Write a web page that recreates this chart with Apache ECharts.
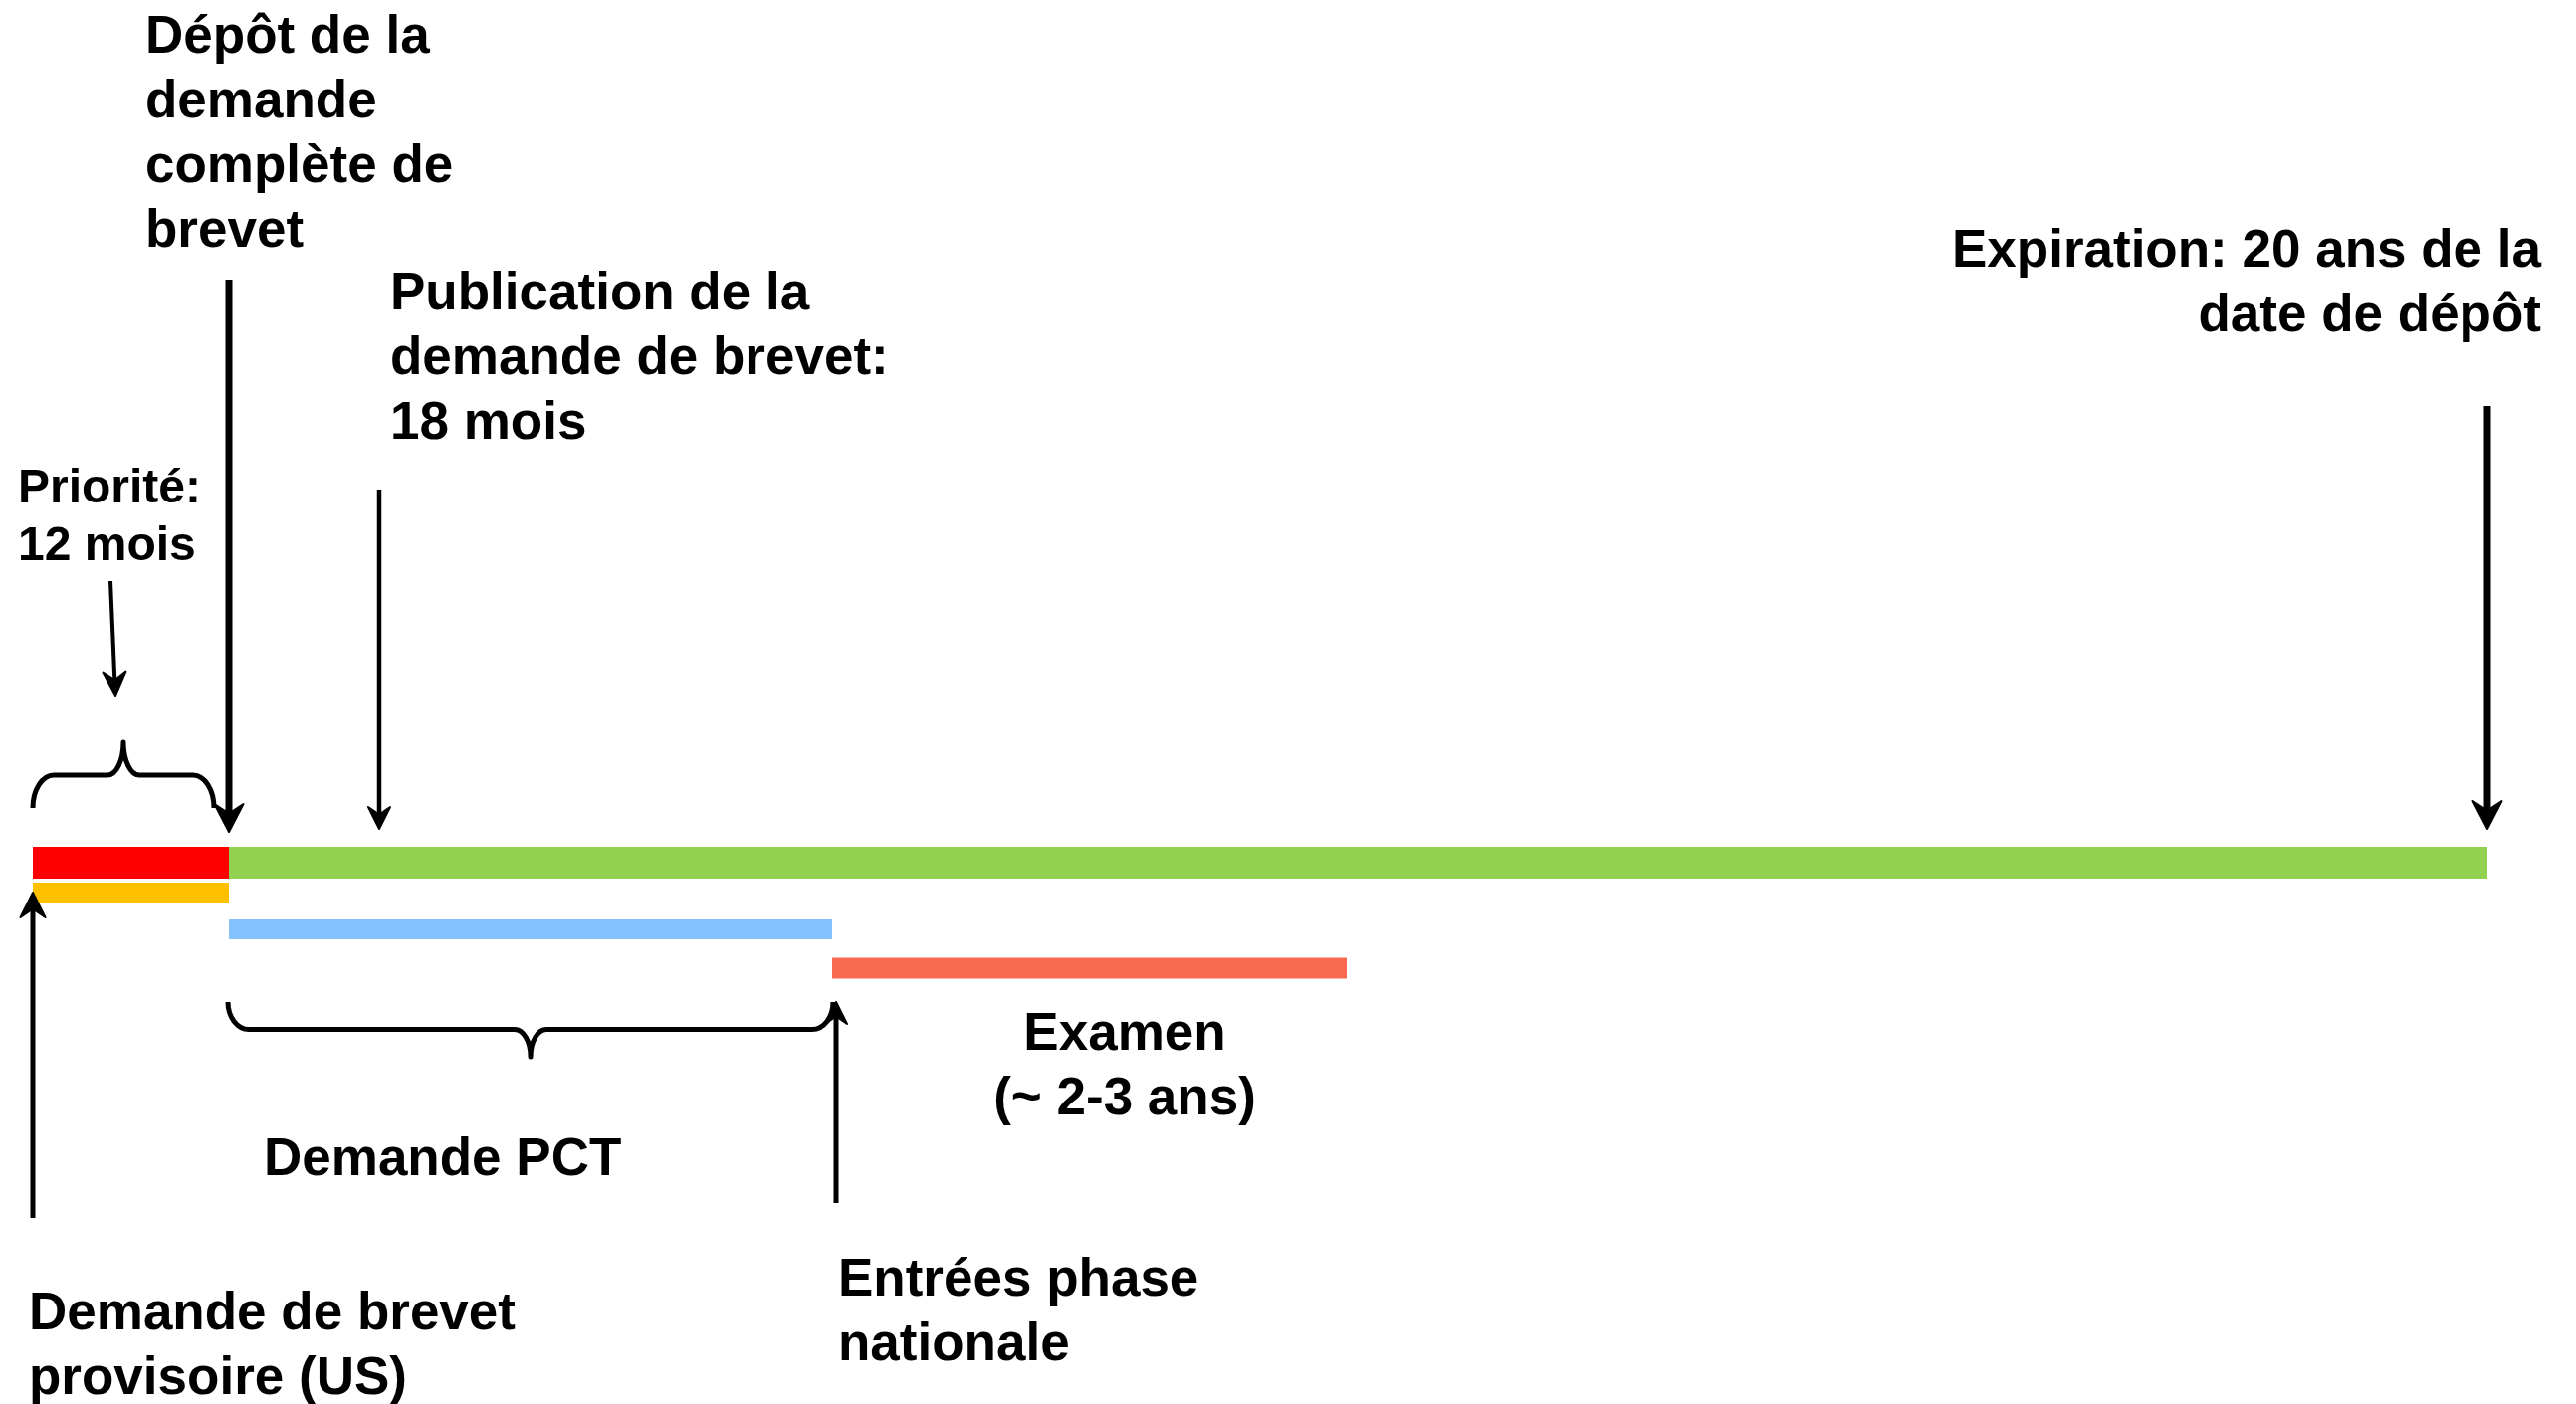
<!DOCTYPE html>
<html>
<head>
<meta charset="utf-8">
<script src="https://cdn.jsdelivr.net/npm/echarts@6/dist/echarts.min.js"></script>
<style>
html,body{margin:0;padding:0;background:#fff;}
#chart{width:2588px;height:1411px;}
</style>
</head>
<body>
<div id="chart"></div>
<script>
// ---- Data read from the schematic (layout units of the timeline) ----
const segNames  = ['Priorité', 'Protection (20 ans)', 'Provisoire (US)', 'Demande PCT', 'Examen'];
const segStart  = [33, 230, 33, 230, 836];
const segEnd    = [230, 2499, 230, 836, 1353];
const segRow    = [867, 867, 897, 934, 973];

const arrowNames = ['Dépôt', 'Publication', 'Priorité', 'Expiration', 'Provisoire', 'Entrées'];
const arrowFromX = [230, 381, 111, 2499, 33, 840];
const arrowFromY = [281, 492, 584, 408, 1224, 1209];
const arrowToX   = [230, 381, 116, 2499, 33, 840];
const arrowToY   = [836, 833, 699, 833, 897, 1007];

const braceNames = ['Priorité', 'Demande PCT'];
const braceX1    = [33, 229];
const braceX2    = [215, 837];
const braceEndY  = [812, 1007];
const braceTipY  = [746, 1062];

const labelTexts = [
  'Dépôt de la\ndemande\ncomplète de\nbrevet',
  'Publication de la\ndemande de brevet:\n18 mois',
  'Priorité:\n12 mois',
  'Expiration: 20 ans de la\ndate de dépôt',
  'Examen\n(~ 2-3 ans)',
  'Demande PCT',
  'Entrées phase\nnationale',
  'Demande de brevet\nprovisoire (US)'
];
const labelX = [146, 392, 18, 2553, 1130, 265, 842, 29];
const labelY = [38, 296, 492, 253, 1040, 1166, 1287, 1321];

// ---- Styles ----
const segColors = ['#FF0000', '#92D050', '#FFC000', '#85C1FF', '#FA6A50'];
const segThick  = [32, 32, 20, 20, 21];
const arrowWidth = [7, 4.5, 4, 7, 5, 5];
const arrowHead  = [[29, 28], [22, 22], [23, 24], [29, 28], [25, 25], [22, 22]];
const labelAlign = ['left', 'left', 'left', 'right', 'center', 'left', 'left', 'left'];
const labelSize  = [53, 53, 48, 53, 53, 53, 53, 53];
const labelLH    = [65, 65, 58, 65, 65, 65, 65, 65];
const FONT = '"Liberation Sans", Arial, Helvetica, sans-serif';

const chart = echarts.init(document.getElementById('chart'));

const segData = segNames.map((n, i) => [segStart[i], segEnd[i], segRow[i], i]);
const arrowData = arrowNames.map((n, i) => [arrowFromX[i], arrowFromY[i], arrowToX[i], arrowToY[i], i]);
const braceData = braceNames.map((n, i) => [braceX1[i], braceX2[i], braceEndY[i], braceTipY[i], i]);
const labelData = labelTexts.map((t, i) => [labelX[i], labelY[i], i]);

const K = 0.552;

const option = {
  backgroundColor: '#ffffff',
  animation: false,
  grid: {left: 0, right: 0, top: 0, bottom: 0},
  xAxis: {type: 'value', min: 0, max: 2588, show: false},
  yAxis: {type: 'value', min: 0, max: 1411, inverse: true, show: false},
  series: [
    {
      type: 'custom',
      name: 'segments',
      data: segData,
      z: 2,
      renderItem: function (params, api) {
        const i = api.value(3);
        const a = api.coord([api.value(0), api.value(2)]);
        const b = api.coord([api.value(1), api.value(2)]);
        const h = segThick[i];
        return {
          type: 'rect',
          shape: {x: a[0], y: a[1] - h / 2, width: b[0] - a[0], height: h},
          style: {fill: segColors[i]}
        };
      }
    },
    {
      type: 'custom',
      name: 'braces',
      data: braceData,
      z: 3,
      renderItem: function (params, api) {
        const l = api.coord([api.value(0), api.value(2)]);
        const r = api.coord([api.value(1), api.value(2)]);
        const t = api.coord([(api.value(0) + api.value(1)) / 2, api.value(3)]);
        const yE = l[1], yT = t[1], yM = (yE + yT) / 2;
        const x1 = l[0], x2 = r[0], xt = t[0];
        const c = 21, ct = 16;
        const P = (x, y) => x.toFixed(2) + ' ' + y.toFixed(2);
        const d =
          'M' + P(x1, yE) +
          ' C' + P(x1, yE + (yM - yE) * K) + ' ' + P(x1 + c * (1 - K), yM) + ' ' + P(x1 + c, yM) +
          ' L' + P(xt - ct, yM) +
          ' C' + P(xt - ct + ct * K, yM) + ' ' + P(xt, yT + (yM - yT) * K) + ' ' + P(xt, yT) +
          ' C' + P(xt, yT + (yM - yT) * K) + ' ' + P(xt + ct - ct * K, yM) + ' ' + P(xt + ct, yM) +
          ' L' + P(x2 - c, yM) +
          ' C' + P(x2 - c + c * K, yM) + ' ' + P(x2, yE + (yM - yE) * K) + ' ' + P(x2, yE);
        return {
          type: 'path',
          shape: {pathData: d},
          style: {stroke: '#000', lineWidth: 5, fill: null, lineJoin: 'round'}
        };
      }
    },
    {
      type: 'custom',
      name: 'arrows',
      data: arrowData,
      z: 4,
      renderItem: function (params, api) {
        const i = api.value(4);
        const p1 = api.coord([api.value(0), api.value(1)]);
        const p2 = api.coord([api.value(2), api.value(3)]);
        const dx = p2[0] - p1[0], dy = p2[1] - p1[1];
        const len = Math.sqrt(dx * dx + dy * dy);
        const ux = dx / len, uy = dy / len;
        const px = -uy, py = ux;
        const W = arrowHead[i][0], L = arrowHead[i][1];
        const bx = p2[0] - ux * L, by = p2[1] - uy * L;
        const nx = p2[0] - ux * L * 0.66, ny = p2[1] - uy * L * 0.66;
        return {
          type: 'group',
          children: [
            {
              type: 'line',
              shape: {x1: p1[0], y1: p1[1], x2: nx, y2: ny},
              style: {stroke: '#000', lineWidth: arrowWidth[i]}
            },
            {
              type: 'polygon',
              shape: {points: [[p2[0], p2[1]], [bx + px * W / 2, by + py * W / 2], [nx, ny], [bx - px * W / 2, by - py * W / 2]]},
              style: {fill: '#000', stroke: '#000', lineWidth: 2, lineJoin: 'round'}
            }
          ]
        };
      }
    },
    {
      type: 'custom',
      name: 'labels',
      data: labelData,
      z: 5,
      renderItem: function (params, api) {
        const i = api.value(2);
        const p = api.coord([api.value(0), api.value(1)]);
        return {
          type: 'text',
          x: p[0],
          y: p[1] - labelLH[i] / 2,
          style: {
            text: labelTexts[i],
            fill: '#000',
            fontSize: labelSize[i],
            fontWeight: 'bold',
            fontFamily: FONT,
            lineHeight: labelLH[i],
            align: labelAlign[i],
            verticalAlign: 'top'
          }
        };
      }
    }
  ]
};
chart.setOption(option);
</script>
</body>
</html>
